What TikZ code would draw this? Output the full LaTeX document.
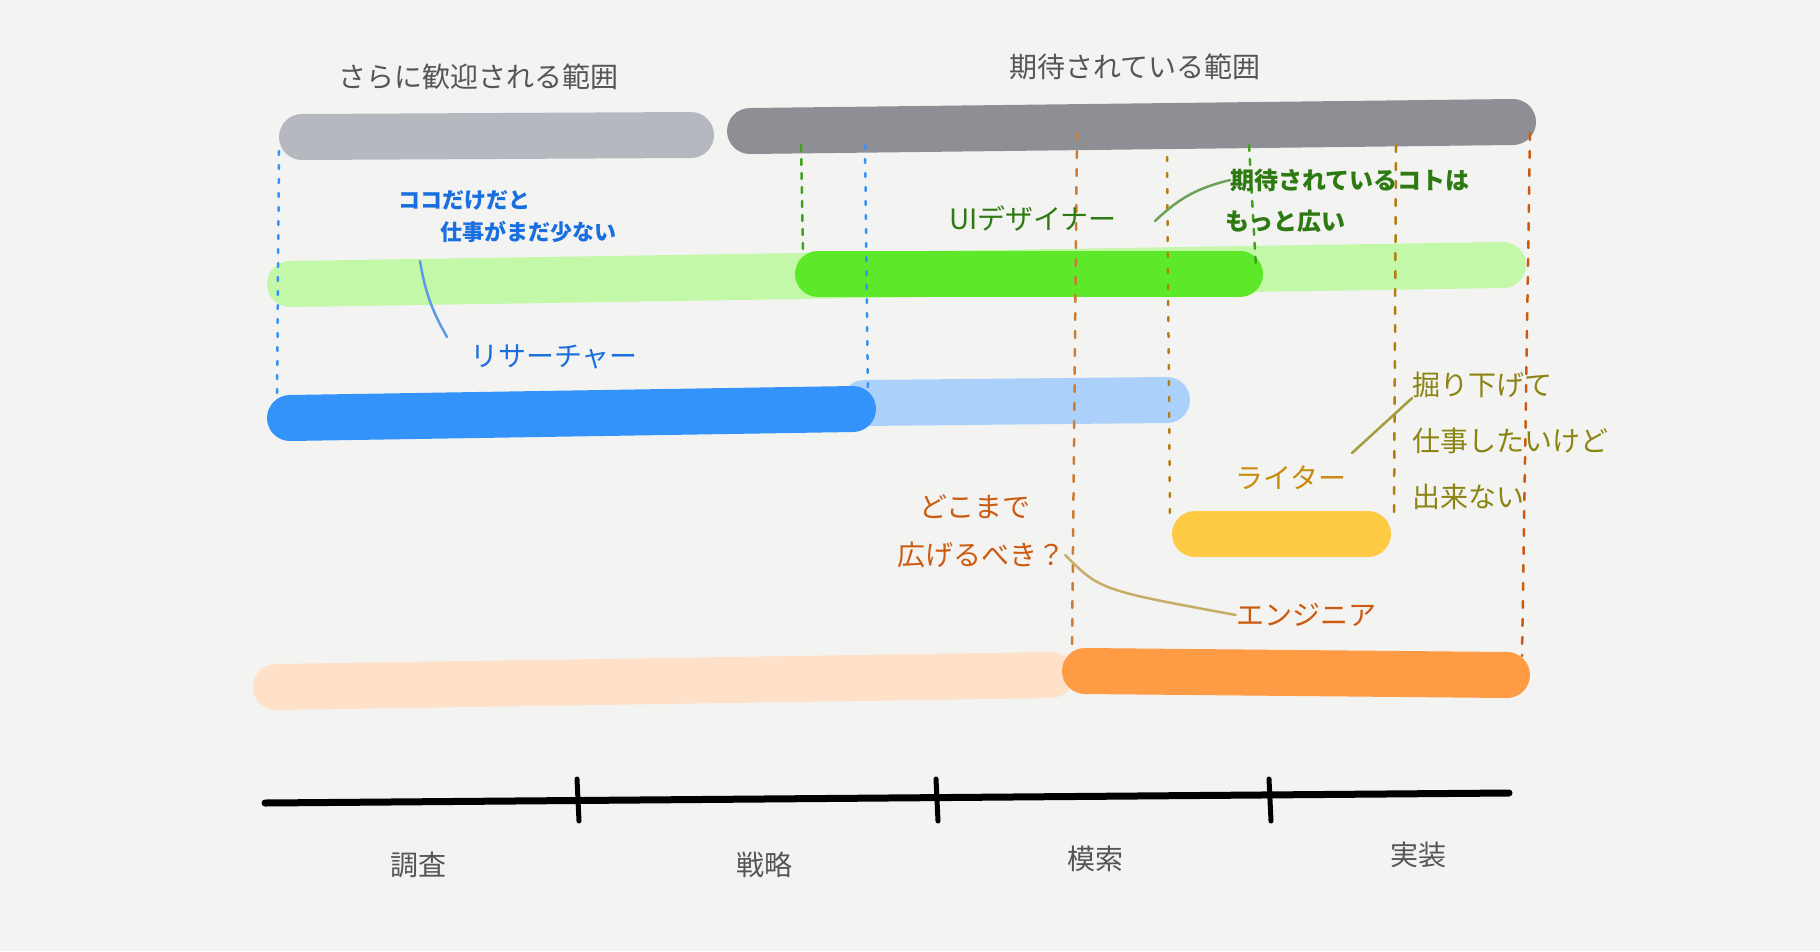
\documentclass[tikz,border=0pt]{standalone}
\usepackage{fontspec}
\setmainfont{Noto Sans CJK JP}
\usetikzlibrary{positioning}
\definecolor{paper}{HTML}{F3F3F1}
\definecolor{grayL}{HTML}{B6B8C0}
\definecolor{grayD}{HTML}{8E8F95}
\definecolor{greenL}{HTML}{C2F8A8}
\definecolor{greenD}{HTML}{5EE82A}
\definecolor{greenT}{HTML}{2E7A12}
\definecolor{blueD}{HTML}{3393FB}
\definecolor{blueL}{HTML}{ABD0FA}
\definecolor{blueT}{HTML}{1A6FE0}
\definecolor{yel}{HTML}{FFCB45}
\definecolor{yelT}{HTML}{C98A10}
\definecolor{olive}{HTML}{8C8412}
\definecolor{orL}{HTML}{FFE0C8}
\definecolor{orD}{HTML}{FF9B45}
\definecolor{orT}{HTML}{CC5A10}
\definecolor{textG}{HTML}{555555}
\begin{document}
\begin{tikzpicture}[x=1pt,y=-1pt,line cap=round,line join=round]
\tikzstyle{bar}=[line width=46pt]
\tikzstyle{guide}=[line width=2.5pt,dash pattern=on 7pt off 11pt]
\tikzstyle{lbl}=[font=\fontsize{28}{32}\selectfont,inner sep=0pt]
\tikzstyle{lead}=[line width=2.5pt]
\fill[paper] (0,0) rectangle (1820,951);
\useasboundingbox (0,0) rectangle (1820,951);
% range bars
\draw[bar,grayL] (302,137)--(691,135);
\draw[bar,grayD] (750,131)--(1513,122);
\node[lbl,textG] (welcome) at (478,77) {さらに歓迎される範囲};
\node[lbl,textG] (expect) at (1135,67) {期待されている範囲};
% designer
\draw[bar,greenL] (290,284)--(1503,265);
\draw[bar,greenD] (818,274)--(1240,274);
% researcher
\draw[bar,blueL] (864,403)--(1167,400);
\draw[bar,blueD] (290,418)--(853,409);
% writer, engineer
\draw[bar,yel] (1195,534)--(1368,534);
\draw[bar,orL] (276,687)--(1051,675);
\draw[bar,orD] (1085,671)--(1507,675);
% guides
\draw[guide,blueD,dash pattern=on 4pt off 10pt] (279,151)--(277,400);
\draw[guide,blueD,dash pattern=on 4pt off 10pt] (865,145)--(868,400);
\draw[guide,greenD!70!black,dash pattern=on 6pt off 8pt] (801,145)--(803,255);
\draw[guide,greenD!70!black,dash pattern=on 6pt off 8pt] (1249,145)--(1256,268);
\draw[guide,orD!80!black] (1077,133)--(1072,650);
\draw[guide,yelT!90!black,dash pattern=on 4pt off 12pt] (1167,157)--(1170,517);
\draw[guide,yelT!90!black] (1396,145)--(1394,517);
\draw[guide,orT] (1530,133)--(1522,656);
% timeline
\draw[line width=7pt] (265,803)--(1509,793);
\foreach \tx in {577,936,1269}
  \draw[line width=5pt] (\tx,779)--(\tx+2,821);
\node[lbl,textG] (research) at (418,865) {調査};
\node[lbl,textG] (strategy) at (764,865) {戦略};
\node[lbl,textG] (explore) at (1095,859) {模索};
\node[lbl,textG] (build) at (1418,855) {実装};
% notes
\node[lbl,blueT,font=\fontsize{22}{26}\bfseries\selectfont] (few1) at (464,200) {ココだけだと};
\node[lbl,blueT,font=\fontsize{22}{26}\bfseries\selectfont] (few2) at (528,232) {仕事がまだ少ない};
\node[lbl,blueT] (researcher) at (554,357) {リサーチャー};
\coordinate (fewA) at (420,261);
\coordinate (fewB) at (447,337);
\draw[lead,blueT!70] (fewA) to[bend right=10] (fewB);
\node[lbl,greenT] (designer) at (1033,218) {UIデザイナー};
\node[lbl,greenT,font=\fontsize{24}{28}\bfseries\selectfont] (wide1) at (1350,180) {期待されているコトは};
\node[lbl,greenT,font=\fontsize{24}{28}\bfseries\selectfont,anchor=west] (wide2) at (1225,221) {もっと広い};
\coordinate (wideA) at (1155,221);
\draw[lead,greenT!70] (wideA) to[bend left=15] (wide1.west);
\node[lbl,yelT] (writer) at (1291,478) {ライター};
\node[lbl,olive,anchor=west] (deep1) at (1412,385) {掘り下げて};
\node[lbl,olive,anchor=west] (deep2) at (1412,441) {仕事したいけど};
\node[lbl,olive,anchor=west] (deep3) at (1412,497) {出来ない};
\coordinate (deepA) at (1352,453);
\draw[lead,olive!80] (deepA) -- (deep1.south west);
\node[lbl,orT] (how1) at (975,507) {どこまで};
\node[lbl,orT] (how2) at (981,555) {広げるべき？};
\node[lbl,orT] (engineer) at (1306,615) {エンジニア};
\draw[lead,orT!50!yellow!70!black!60] (how2.east) .. controls (1100,590) .. (engineer.west);
\end{tikzpicture}
\end{document}
